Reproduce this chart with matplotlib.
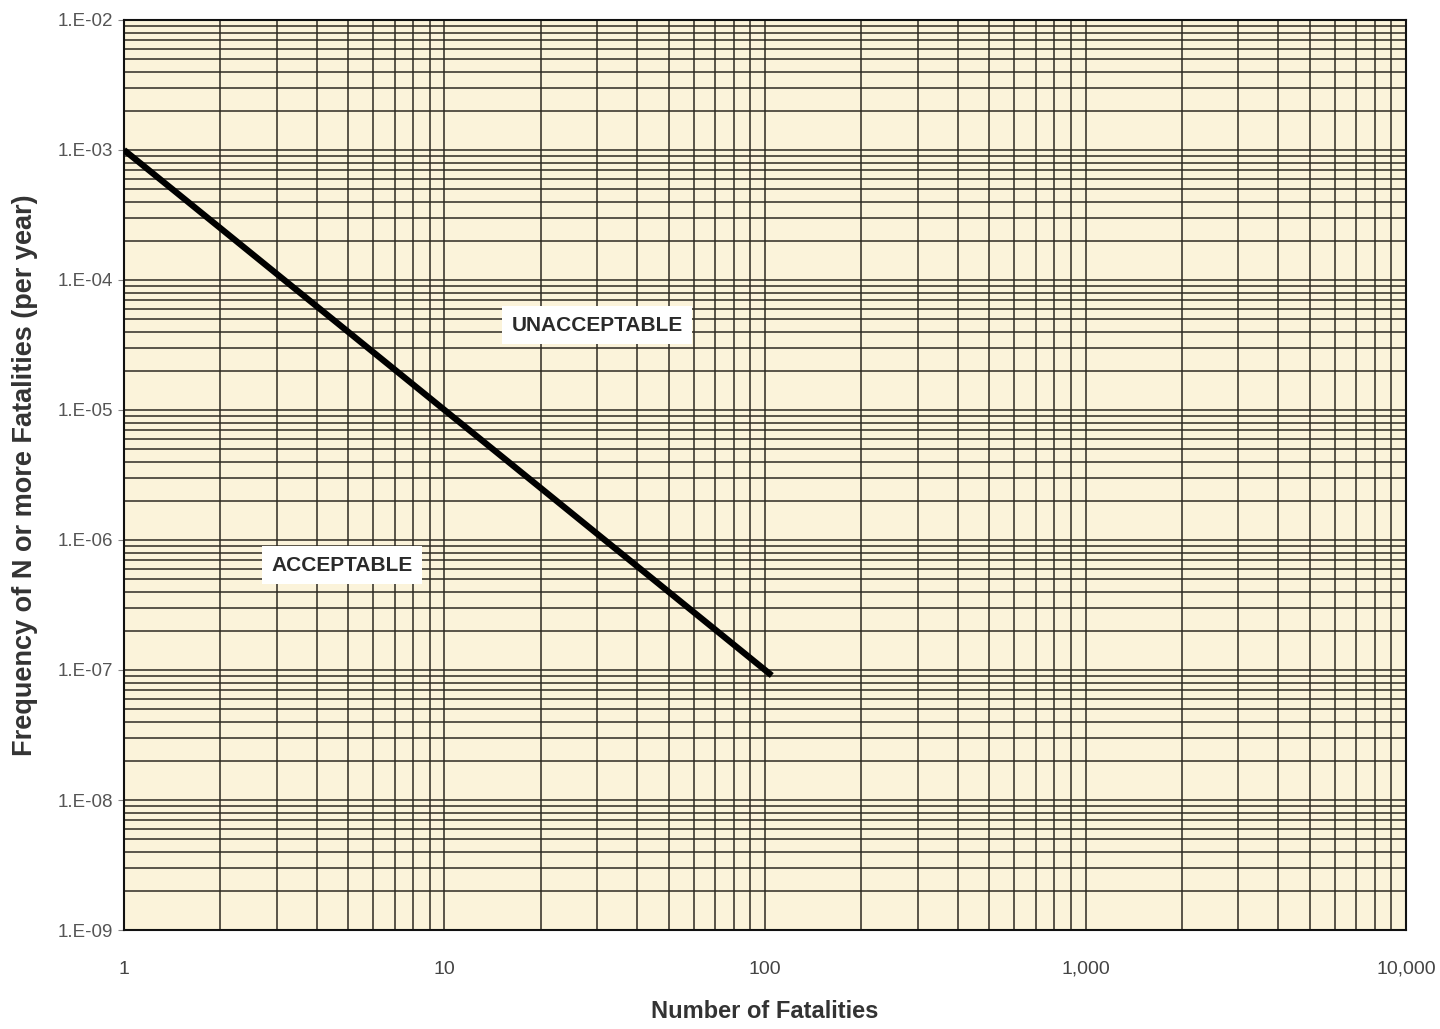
import matplotlib
matplotlib.use("Agg")
import matplotlib.pyplot as plt
import numpy as np
from matplotlib.ticker import FixedLocator, LogLocator, NullFormatter

plt.rcParams["font.family"] = ["Liberation Sans", "DejaVu Sans"]

# F-N criterion line: frequency of N or more fatalities
n_values = [1, 105]
freq_values = [1e-3, 9.07e-8]

x_ticks = [1, 10, 100, 1000, 10000]
x_labels = ["1", "10", "100", "1,000", "10,000"]
y_ticks = [1e-9, 1e-8, 1e-7, 1e-6, 1e-5, 1e-4, 1e-3, 1e-2]
y_labels = ["1.E-09", "1.E-08", "1.E-07", "1.E-06", "1.E-05", "1.E-04", "1.E-03", "1.E-02"]

fig = plt.figure(figsize=(14.4, 10.29), dpi=100)
ax = fig.add_axes([0.0861, 0.0962, 0.8903, 0.8844])
ax.set_facecolor("#fbf3da")

ax.set_xscale("log")
ax.set_yscale("log")
ax.set_xlim(1, 10000)
ax.set_ylim(1e-9, 1e-2)

ax.xaxis.set_major_locator(FixedLocator(x_ticks))
ax.set_xticklabels(x_labels)
ax.yaxis.set_major_locator(FixedLocator(y_ticks))
ax.set_yticklabels(y_labels)
ax.xaxis.set_minor_locator(LogLocator(base=10, subs=np.arange(2, 10)))
ax.yaxis.set_minor_locator(LogLocator(base=10, subs=np.arange(2, 10)))
ax.xaxis.set_minor_formatter(NullFormatter())
ax.yaxis.set_minor_formatter(NullFormatter())

ax.grid(True, which="both", color="#2e2a22", linewidth=1.1)
ax.set_axisbelow(True)

ax.tick_params(axis="both", which="minor", length=0)
ax.tick_params(axis="y", which="major", length=4, color="#888", labelcolor="#555",
               labelsize=13.5, pad=4)
ax.tick_params(axis="x", which="major", length=0, labelcolor="#444",
               labelsize=14, pad=22)

for s in ax.spines.values():
    s.set_color("#111")
    s.set_linewidth(1.5)

ax.plot(n_values, freq_values, color="black", linewidth=4.5, solid_capstyle="butt", zorder=5)

box = dict(boxstyle="square,pad=0.45", facecolor="white", edgecolor="none")
ax.text(30, 4.5e-5, "UNACCEPTABLE", ha="center", va="center", fontsize=15,
        fontweight="bold", color="#2a2a2a", bbox=box, zorder=6)
ax.text(4.8, 6.4e-7, "ACCEPTABLE", ha="center", va="center", fontsize=15,
        fontweight="bold", color="#2a2a2a", bbox=box, zorder=6)

ax.set_xlabel("Number of Fatalities", fontsize=17, fontweight="bold", color="#333", labelpad=16)
ax.set_ylabel("Frequency of N or more Fatalities (per year)", fontsize=19.5,
              fontweight="bold", color="#333")
ax.yaxis.set_label_coords(-0.067, 0.5)

fig.savefig("out.png", dpi=100, facecolor="white")
